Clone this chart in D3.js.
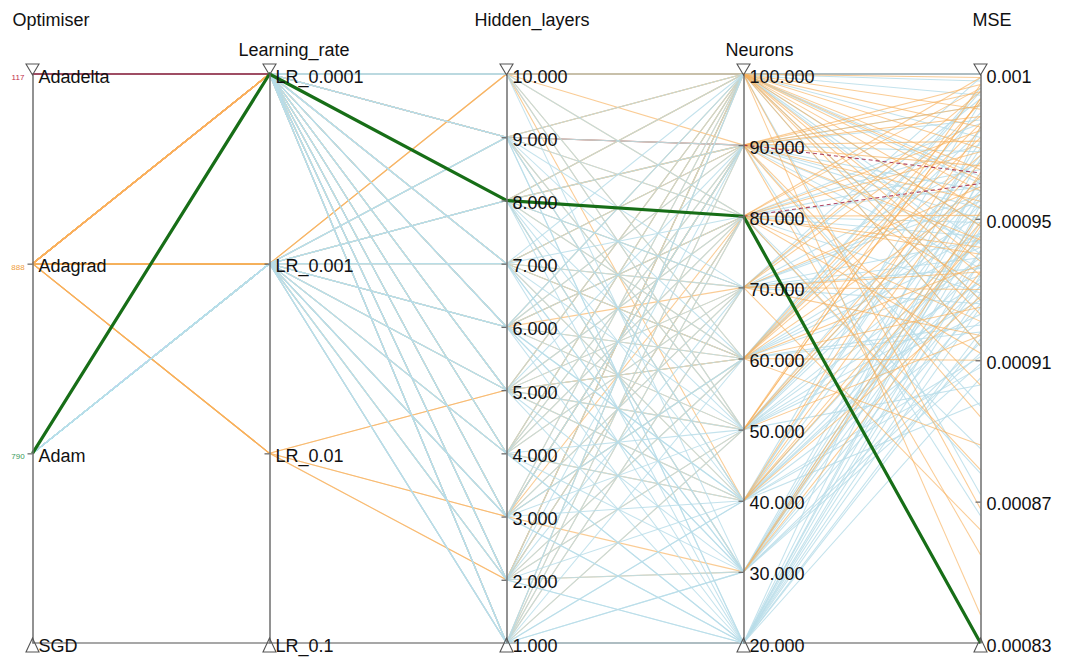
<!DOCTYPE html>
<html>
<head>
<meta charset="utf-8">
<script src="https://cdn.jsdelivr.net/npm/d3@7"></script>
<style>
  html, body { margin: 0; padding: 0; background: #fff; }
  svg { display: block; font-family: "Liberation Sans", Arial, sans-serif; }
</style>
</head>
<body>
<svg id="chart" width="1067" height="661"></svg>
<script>
// ---- data -------------------------------------------------------------
const dimensions = ["Optimiser", "Learning_rate", "Hidden_layers", "Neurons", "MSE"];
const optimisers = ["Adadelta", "Adagrad", "Adam", "SGD"];
const optimiserCounts = [117, 888, 790, null];
const learningRates = ["LR_0.0001", "LR_0.001", "LR_0.01", "LR_0.1"];
const hiddenTicks = [1, 2, 3, 4, 5, 6, 7, 8, 9, 10];
const neuronTicks = [20, 30, 40, 50, 60, 70, 80, 90, 100];
const mseTicks = [0.00083, 0.00087, 0.00091, 0.00095, 0.000991];
const mseTickLabels = ["0.00083", "0.00087", "0.00091", "0.00095", "0.001"];

// runs: [learning rate, hidden layers, neurons, MSE]
const adamRuns = [
  ["LR_0.0001", 10, 100, 0.000985], ["LR_0.0001", 10, 60, 0.000942], ["LR_0.0001", 9, 90, 0.000978],
  ["LR_0.0001", 9, 40, 0.000921], ["LR_0.0001", 9, 20, 0.000905], ["LR_0.0001", 8, 70, 0.000955],
  ["LR_0.0001", 8, 30, 0.000915], ["LR_0.0001", 8, 100, 0.000948], ["LR_0.0001", 7, 50, 0.000932],
  ["LR_0.0001", 7, 20, 0.000938], ["LR_0.0001", 7, 80, 0.000971], ["LR_0.0001", 6, 40, 0.000944],
  ["LR_0.0001", 6, 100, 0.000962], ["LR_0.0001", 6, 30, 0.000926], ["LR_0.0001", 5, 60, 0.000951],
  ["LR_0.0001", 5, 20, 0.000918], ["LR_0.0001", 5, 90, 0.000936], ["LR_0.0001", 4, 50, 0.000958],
  ["LR_0.0001", 4, 80, 0.000929], ["LR_0.0001", 4, 20, 0.000947], ["LR_0.0001", 3, 70, 0.000984],
  ["LR_0.0001", 3, 40, 0.000911], ["LR_0.0001", 3, 100, 0.000940], ["LR_0.0001", 2, 30, 0.000952],
  ["LR_0.0001", 2, 60, 0.000975], ["LR_0.0001", 2, 90, 0.000897], ["LR_0.0001", 1, 20, 0.000962],
  ["LR_0.0001", 1, 50, 0.000944], ["LR_0.0001", 1, 100, 0.000989], ["LR_0.0001", 1, 40, 0.000898],
  ["LR_0.0001", 10, 30, 0.000931], ["LR_0.0001", 9, 70, 0.000966], ["LR_0.0001", 8, 50, 0.000903],
  ["LR_0.0001", 7, 60, 0.000987], ["LR_0.0001", 6, 80, 0.000949], ["LR_0.0001", 5, 40, 0.000972],
  ["LR_0.0001", 4, 100, 0.000914], ["LR_0.0001", 3, 20, 0.000934], ["LR_0.0001", 2, 50, 0.000923],
  ["LR_0.0001", 1, 70, 0.000957], ["LR_0.0001", 6, 100, 0.000872], ["LR_0.0001", 8, 80, 0.000878],
  ["LR_0.0001", 10, 80, 0.000959], ["LR_0.0001", 10, 50, 0.000927], ["LR_0.0001", 9, 60, 0.000946],
  ["LR_0.0001", 8, 40, 0.000933], ["LR_0.0001", 7, 90, 0.000982], ["LR_0.0001", 7, 30, 0.000909],
  ["LR_0.0001", 6, 50, 0.000968], ["LR_0.0001", 5, 70, 0.000939], ["LR_0.0001", 4, 30, 0.000956],
  ["LR_0.0001", 3, 60, 0.000920], ["LR_0.0001", 2, 80, 0.000964], ["LR_0.0001", 2, 20, 0.000941],
  ["LR_0.0001", 1, 90, 0.000953], ["LR_0.0001", 1, 30, 0.000912],
  ["LR_0.001", 9, 100, 0.000991], ["LR_0.001", 9, 50, 0.000939], ["LR_0.001", 8, 20, 0.000925],
  ["LR_0.001", 8, 90, 0.000969], ["LR_0.001", 7, 40, 0.000957], ["LR_0.001", 7, 100, 0.000943],
  ["LR_0.001", 6, 60, 0.000980], ["LR_0.001", 6, 20, 0.000952], ["LR_0.001", 5, 80, 0.000945],
  ["LR_0.001", 5, 30, 0.000961], ["LR_0.001", 4, 70, 0.000936], ["LR_0.001", 4, 40, 0.000983],
  ["LR_0.001", 3, 90, 0.000950], ["LR_0.001", 3, 20, 0.000929], ["LR_0.001", 2, 100, 0.000973],
  ["LR_0.001", 2, 40, 0.000908], ["LR_0.001", 1, 60, 0.000934], ["LR_0.001", 1, 30, 0.000967],
  ["LR_0.001", 1, 80, 0.000885], ["LR_0.001", 6, 30, 0.000946], ["LR_0.001", 8, 70, 0.000990],
  ["LR_0.001", 8, 60, 0.000918], ["LR_0.001", 6, 90, 0.000958], ["LR_0.001", 4, 20, 0.000976],
  ["LR_0.001", 2, 70, 0.000944], ["LR_0.001", 3, 50, 0.000962], ["LR_0.001", 5, 100, 0.000927],
  ["LR_0.001", 7, 30, 0.000941], ["LR_0.001", 9, 20, 0.000954], ["LR_0.001", 1, 40, 0.000931],
  ["LR_0.001", 3, 90, 0.000866], ["LR_0.001", 9, 40, 0.000937], ["LR_0.001", 9, 80, 0.000977],
  ["LR_0.001", 8, 30, 0.000949], ["LR_0.001", 7, 70, 0.000926], ["LR_0.001", 6, 40, 0.000970],
  ["LR_0.001", 5, 50, 0.000954], ["LR_0.001", 4, 90, 0.000943], ["LR_0.001", 3, 60, 0.000986],
  ["LR_0.001", 2, 20, 0.000916], ["LR_0.001", 1, 100, 0.000960]
];

const adagradRuns = [
  ["LR_0.0001", 10, 100, 0.000981], ["LR_0.0001", 9, 90, 0.000944], ["LR_0.0001", 8, 100, 0.000927],
  ["LR_0.0001", 7, 90, 0.000965], ["LR_0.0001", 6, 80, 0.000912], ["LR_0.0001", 5, 100, 0.000958],
  ["LR_0.0001", 4, 70, 0.000986], ["LR_0.0001", 3, 90, 0.000903], ["LR_0.0001", 2, 80, 0.000975],
  ["LR_0.0001", 1, 100, 0.000948], ["LR_0.0001", 10, 60, 0.000968], ["LR_0.0001", 9, 50, 0.000988],
  ["LR_0.0001", 8, 70, 0.000935], ["LR_0.0001", 7, 40, 0.000963], ["LR_0.0001", 6, 100, 0.000990],
  ["LR_0.0001", 5, 60, 0.000925], ["LR_0.0001", 4, 90, 0.000979], ["LR_0.0001", 3, 80, 0.000951],
  ["LR_0.0001", 2, 100, 0.000914], ["LR_0.0001", 1, 90, 0.000972], ["LR_0.0001", 10, 80, 0.000942],
  ["LR_0.0001", 9, 100, 0.000961], ["LR_0.0001", 8, 90, 0.000986], ["LR_0.0001", 7, 70, 0.000917],
  ["LR_0.0001", 6, 60, 0.000983], ["LR_0.0001", 5, 40, 0.000945], ["LR_0.0001", 4, 100, 0.000970],
  ["LR_0.0001", 3, 60, 0.000937], ["LR_0.0001", 2, 50, 0.000966], ["LR_0.0001", 1, 70, 0.000930],
  ["LR_0.0001", 9, 100, 0.000868], ["LR_0.0001", 6, 80, 0.000879], ["LR_0.0001", 3, 100, 0.000838],
  ["LR_0.0001", 7, 60, 0.000886], ["LR_0.0001", 4, 40, 0.000928], ["LR_0.0001", 1, 50, 0.000962],
  ["LR_0.0001", 8, 30, 0.000935], ["LR_0.0001", 10, 40, 0.000976], ["LR_0.0001", 2, 30, 0.000952],
  ["LR_0.0001", 5, 50, 0.000984],
  ["LR_0.001", 10, 100, 0.000976], ["LR_0.001", 10, 90, 0.000931], ["LR_0.001", 9, 80, 0.000987],
  ["LR_0.001", 8, 100, 0.000953], ["LR_0.001", 7, 90, 0.000894], ["LR_0.001", 6, 70, 0.000979],
  ["LR_0.001", 5, 80, 0.000969], ["LR_0.001", 4, 100, 0.000938], ["LR_0.001", 3, 90, 0.000988],
  ["LR_0.001", 2, 60, 0.000957], ["LR_0.001", 1, 80, 0.000921], ["LR_0.001", 10, 50, 0.000984],
  ["LR_0.001", 9, 40, 0.000949], ["LR_0.001", 8, 60, 0.000973], ["LR_0.001", 6, 90, 0.000955],
  ["LR_0.001", 4, 80, 0.000990], ["LR_0.001", 2, 100, 0.000934], ["LR_0.001", 7, 60, 0.000910],
  ["LR_0.001", 8, 90, 0.000855], ["LR_0.001", 5, 70, 0.000862], ["LR_0.001", 3, 30, 0.000948],
  ["LR_0.001", 6, 50, 0.000917],
  ["LR_0.01", 5, 100, 0.000964], ["LR_0.01", 3, 90, 0.000982], ["LR_0.01", 2, 80, 0.000940],
  ["LR_0.01", 5, 60, 0.000977], ["LR_0.01", 3, 70, 0.000959], ["LR_0.01", 2, 100, 0.000923]
];

const adadeltaRuns = [
  ["LR_0.0001", 9, 90, 0.000963], ["LR_0.0001", 8, 80, 0.000960]
];

// the selected (best) run
const bestRun = ["Adam", "LR_0.0001", 8, 80, 0.00083];

// ---- layout -----------------------------------------------------------
const svg = d3.select("#chart");
const yTop = 74, yBottom = 643;
const x = d3.scalePoint().domain(dimensions).range([32.5, 980.5]);

const y = {
  Optimiser: d3.scalePoint().domain(optimisers).range([yTop, yBottom]),
  Learning_rate: d3.scalePoint().domain(learningRates).range([yTop, yBottom]),
  Hidden_layers: d3.scaleLinear().domain([1, 10]).range([yBottom, yTop]),
  Neurons: d3.scaleLinear().domain([20, 100]).range([yBottom, yTop]),
  MSE: d3.scaleLinear().domain([0.00083, 0.000991]).range([yBottom, yTop])
};

const toRecord = (opt, r) => ({
  Optimiser: opt, Learning_rate: r[0], Hidden_layers: r[1], Neurons: r[2], MSE: r[3]
});

const groups = {
  adam: { rows: adamRuns.map(r => toRecord("Adam", r)), stroke: "#b8dde9", opacity: 0.85, width: 1.05 },
  adagrad: { rows: adagradRuns.map(r => toRecord("Adagrad", r)), stroke: "#f8b05c", opacity: 0.65, width: 1.05 },
  adadelta: { rows: adadeltaRuns.map(r => toRecord("Adadelta", r)), stroke: "#9c1c40", opacity: 0.8, width: 1.1 }
};

// stacking order of the groups inside each gap between two axes
const gapOrder = [
  ["adagrad", "adam", "adadelta"],
  ["adadelta", "adagrad", "adam"],
  ["adadelta", "adagrad", "adam"],
  ["adam", "adagrad", "adadelta"]
];
// the last gap shows the Adadelta runs broken up
const gapDash = [null, null, null, "4,3"];

const line = d3.line();
const gaps = d3.pairs(dimensions);

// outer frame along the axis ends
svg.append("g").selectAll("line").data([yTop, yBottom]).join("line")
  .attr("x1", x.range()[0]).attr("x2", x.range()[1])
  .attr("y1", d => d).attr("y2", d => d)
  .attr("stroke", "#8a8a8a").attr("stroke-width", 1.6);

const lines = svg.append("g").attr("fill", "none");

gaps.forEach(([a, b], i) => {
  gapOrder[i].forEach(key => {
    const gdef = groups[key];
    lines.append("g").selectAll("path").data(gdef.rows).join("path")
      .attr("d", d => line([[x(a), y[a](d[a])], [x(b), y[b](d[b])]]))
      .attr("stroke", gdef.stroke).attr("stroke-opacity", gdef.opacity)
      .attr("stroke-width", gdef.width)
      .attr("stroke-dasharray", key === "adadelta" ? gapDash[i] : null);
  });
});

const best = { Optimiser: bestRun[0], Learning_rate: bestRun[1], Hidden_layers: bestRun[2], Neurons: bestRun[3], MSE: bestRun[4] };
lines.append("path")
  .attr("d", line(dimensions.map(k => [x(k), y[k](best[k])])))
  .attr("stroke", "#176e17").attr("stroke-width", 3.2).attr("stroke-linejoin", "round");

// ---- axes -------------------------------------------------------------
const fmt3 = d3.format(".3f");
const axisFor = {
  Optimiser: d3.axisRight(y.Optimiser),
  Learning_rate: d3.axisRight(y.Learning_rate),
  Hidden_layers: d3.axisRight(y.Hidden_layers).tickValues(hiddenTicks).tickFormat(fmt3),
  Neurons: d3.axisRight(y.Neurons).tickValues(neuronTicks).tickFormat(fmt3),
  MSE: d3.axisRight(y.MSE).tickValues(mseTicks).tickFormat((d, i) => mseTickLabels[i])
};

const titleOffset = { Optimiser: -20, Learning_rate: -31, Hidden_layers: -32, Neurons: -18, MSE: -8 };
const titleRow = { Optimiser: 20, Learning_rate: 50, Hidden_layers: 20, Neurons: 50, MSE: 20 };

dimensions.forEach(k => {
  const g = svg.append("g").attr("transform", `translate(${x(k)},0)`);
  g.call(axisFor[k].tickSize(0).tickPadding(6));
  g.select(".domain").attr("stroke", "#6e6e6e").attr("stroke-width", 1.5);
  g.selectAll(".tick text")
    .attr("font-size", 18).attr("fill", "#111")
    .attr("font-family", "'Liberation Sans', Arial, sans-serif")
    .attr("dy", "0.45em");
  // short marks on the left side for the inner ticks
  g.selectAll(".tick").filter(d => {
    const t = y[k](d);
    return t > yTop + 1 && t < yBottom - 1;
  }).append("line").attr("x1", -5).attr("x2", 0).attr("stroke", "#6e6e6e").attr("stroke-width", 1.3);

  // end markers
  g.append("path").attr("d", `M-6.5,${yTop - 10}L6.5,${yTop - 10}L0,${yTop + 1}Z`)
    .attr("fill", "none").attr("stroke", "#555").attr("stroke-width", 1.1);
  g.append("path").attr("d", `M-6.5,${yBottom + 9}L6.5,${yBottom + 9}L0,${yBottom - 5}Z`)
    .attr("fill", "none").attr("stroke", "#555").attr("stroke-width", 1.1);

  svg.append("text")
    .attr("x", x(k) + titleOffset[k]).attr("y", titleRow[k]).attr("dy", "0.35em")
    .attr("font-size", 18).attr("fill", "#111").text(k);
});

// row counts beside the optimiser categories
const countColours = ["#c0304a", "#f0a040", "#3a9a5a", "#777"];
svg.append("g").selectAll("text")
  .data(optimisers.map((o, i) => ({ o, n: optimiserCounts[i], c: countColours[i] })).filter(d => d.n !== null))
  .join("text")
  .attr("x", 18).attr("y", d => y.Optimiser(d.o) + 6)
  .attr("text-anchor", "middle").attr("font-size", 8).attr("fill", d => d.c)
  .text(d => d.n);
</script>
</body>
</html>
